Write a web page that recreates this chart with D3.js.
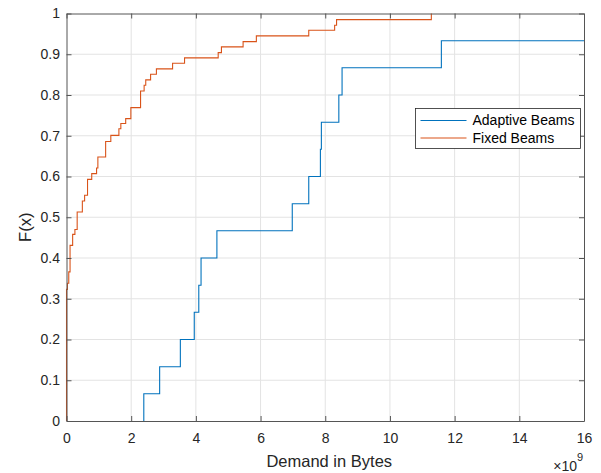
<!DOCTYPE html>
<html lang="en">
<head>
    <meta charset="UTF-8">
    <title>Empirical CDF of Demand</title>
    <script src="https://d3js.org/d3.v7.min.js"></script>
    <style>
        body, html {
          margin: 0;
          padding: 0;
          width: 100%;
          height: 100%;
          overflow: hidden;
          background: #fff;
        }
        svg {
          display: block;
          font-family: "Liberation Sans", Arial, sans-serif;
        }
        .grid line {
          stroke: #e3e3e3;
          stroke-width: 1px;
        }
        .axis text {
          fill: #262626;
          font-size: 14px;
        }
        .axis path, .axis line {
          stroke: #555;
        }
    </style>
</head>
<body>
<svg></svg>
<script>
    // demand values in units of 1e9 bytes, F(x) after each step
    const adaptiveX = [2.39, 2.88, 3.52, 3.95, 4.09, 4.16, 4.65, 6.98, 7.49, 7.85, 7.88, 8.42, 8.52, 11.59];
    const adaptiveF = [0.0667, 0.1333, 0.2, 0.2667, 0.3333, 0.4, 0.4667, 0.5333, 0.6, 0.6667, 0.7333, 0.8, 0.8667, 0.9333];

    const fixedX = [0, 0.03, 0.07, 0.11, 0.19, 0.26, 0.33, 0.49, 0.56, 0.65, 0.78, 0.93, 0.97, 1.21,
                    1.37, 1.62, 1.68, 1.83, 1.99, 2.29, 2.40, 2.45, 2.60, 2.78, 3.28, 3.65, 4.69,
                    4.79, 5.46, 5.87, 7.49, 8.29, 8.35, 11.28];
    const fixedF = [0.323, 0.338, 0.366, 0.431, 0.458, 0.47, 0.513, 0.54, 0.554, 0.593, 0.607, 0.621, 0.648, 0.686,
                    0.701, 0.717, 0.73, 0.742, 0.769, 0.81, 0.824, 0.837, 0.851, 0.864, 0.878, 0.891, 0.904,
                    0.918, 0.931, 0.945, 0.959, 0.971, 0.985, 1.0];

    const xTicks = [0, 2, 4, 6, 8, 10, 12, 14, 16];
    const yTicks = [0, 0.1, 0.2, 0.3, 0.4, 0.5, 0.6, 0.7, 0.8, 0.9, 1];

    const seriesNames = ["Adaptive Beams", "Fixed Beams"];
    const seriesColors = ["#0072BD", "#D95319"];

    const width = 601, height = 473;
    const margin = {top: 13.5, right: 17, bottom: 52, left: 66.5};
    const innerW = width - margin.left - margin.right;
    const innerH = height - margin.top - margin.bottom;

    const svg = d3.select("svg")
      .attr("width", width)
      .attr("height", height);

    const g = svg.append("g")
      .attr("transform", `translate(${margin.left},${margin.top})`);

    const x = d3.scaleLinear().domain([0, 16]).range([0, innerW]);
    const y = d3.scaleLinear().domain([0, 1]).range([innerH, 0]);

    // grid
    g.append("g").attr("class", "grid")
      .selectAll("line").data(xTicks.slice(1, -1)).enter().append("line")
        .attr("x1", d => x(d)).attr("x2", d => x(d))
        .attr("y1", 0).attr("y2", innerH);
    g.append("g").attr("class", "grid")
      .selectAll("line").data(yTicks.slice(1, -1)).enter().append("line")
        .attr("x1", 0).attr("x2", innerW)
        .attr("y1", d => y(d)).attr("y2", d => y(d));

    // staircase lines
    svg.append("clipPath").attr("id", "clip")
      .append("rect").attr("x", -1).attr("y", -1).attr("width", innerW + 2).attr("height", innerH + 2);

    const stairs = d3.line()
      .x(d => x(d[0]))
      .y(d => y(d[1]))
      .curve(d3.curveStepAfter);

    const adaptivePts = [[adaptiveX[0], 0]].concat(adaptiveX.map((v, i) => [v, adaptiveF[i]]));
    adaptivePts.push([16, adaptiveF[adaptiveF.length - 1]]);
    const fixedPts = [[fixedX[0], 0]].concat(fixedX.map((v, i) => [v, fixedF[i]]));

    [adaptivePts, fixedPts].forEach((pts, i) => {
      g.append("path")
        .datum(pts)
        .attr("clip-path", "url(#clip)")
        .attr("fill", "none")
        .attr("stroke", seriesColors[i])
        .attr("stroke-width", 1.1)
        .attr("d", stairs);
    });

    // axes with inward ticks on all four sides
    const fmt = d3.format("");
    g.append("g").attr("class", "axis")
      .attr("transform", `translate(0,${innerH})`)
      .call(d3.axisBottom(x).tickValues(xTicks).tickSizeInner(-5).tickSizeOuter(0).tickPadding(12).tickFormat(fmt));
    g.append("g").attr("class", "axis")
      .call(d3.axisTop(x).tickValues(xTicks).tickSizeInner(-5).tickSizeOuter(0).tickFormat(""));
    g.append("g").attr("class", "axis")
      .call(d3.axisLeft(y).tickValues(yTicks).tickSizeInner(-5).tickSizeOuter(0).tickPadding(6.5).tickFormat(fmt));
    g.append("g").attr("class", "axis")
      .attr("transform", `translate(${innerW},0)`)
      .call(d3.axisRight(y).tickValues(yTicks).tickSizeInner(-5).tickSizeOuter(0).tickFormat(""));

    // labels
    svg.append("text")
      .attr("x", margin.left + innerW / 2 + 4)
      .attr("y", 467)
      .attr("text-anchor", "middle")
      .attr("fill", "#262626")
      .style("font-size", "16.5px")
      .text("Demand in Bytes");

    svg.append("text")
      .attr("transform", `translate(31,${margin.top + innerH / 2 + 10}) rotate(-90)`)
      .attr("text-anchor", "middle")
      .attr("fill", "#262626")
      .style("font-size", "16.5px")
      .text("F(x)");

    svg.append("text")
      .attr("x", 577)
      .attr("y", 471)
      .attr("text-anchor", "end")
      .attr("fill", "#262626")
      .style("font-size", "14px")
      .text("\u00d710");
    svg.append("text")
      .attr("x", 577)
      .attr("y", 461)
      .attr("fill", "#262626")
      .style("font-size", "11px")
      .text("9");

    // legend
    const legend = svg.append("g").attr("transform", "translate(415.5,108.5)");
    legend.append("rect")
      .attr("width", 165).attr("height", 40)
      .attr("fill", "#fff")
      .attr("stroke", "#262626")
      .attr("stroke-width", 0.8);
    seriesNames.forEach((name, i) => {
      const ly = 12 + i * 17.5;
      legend.append("line")
        .attr("x1", 5).attr("x2", 51)
        .attr("y1", ly).attr("y2", ly)
        .attr("stroke", seriesColors[i])
        .attr("stroke-width", 1.1);
      legend.append("text")
        .attr("x", 57).attr("y", ly)
        .attr("dy", "0.35em")
        .attr("fill", "#000")
        .style("font-size", "14px")
        .text(name);
    });
</script>
</body>
</html>
